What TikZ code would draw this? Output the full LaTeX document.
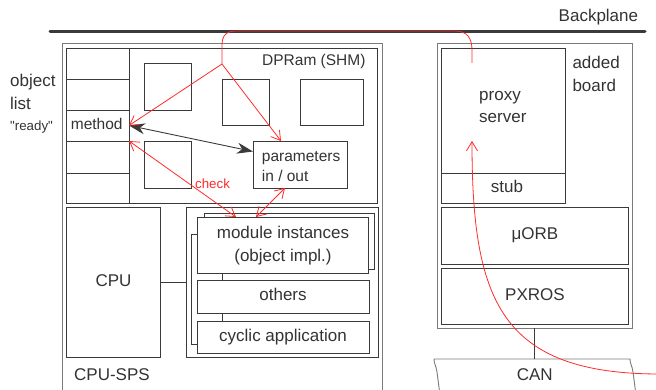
\documentclass[tikz,border=0pt]{standalone}
\usepackage{fontspec}
\setmainfont{Liberation Sans}
\newfontfamily\qfont{Liberation Sans}[Ligatures=TeXOff]
\usetikzlibrary{fit,arrows.meta}
\definecolor{ink}{HTML}{3A3A3A}
\definecolor{framec}{HTML}{7A7A7A}
\definecolor{txt}{HTML}{333333}
\definecolor{rd}{HTML}{FF2B2B}
\begin{document}
\begin{tikzpicture}[x=1pt,y=-1pt,
  box/.style={draw=ink, line width=0.9pt, inner sep=0pt, outer sep=0pt, rectangle},
  outerbox/.style={draw=framec, line width=0.9pt, inner sep=0pt, outer sep=0pt, rectangle},
  big/.style={text=txt, font=\fontsize{17}{20}\selectfont, inner sep=0pt},
  mid/.style={text=txt, font=\fontsize{15.5}{18}\selectfont, inner sep=0pt},
  small/.style={text=txt, font=\fontsize{13.3}{16}\selectfont, inner sep=0pt},
  rarr/.style={draw=rd, line width=0.8pt, arrows={-Straight Barb[length=9pt,width=11pt]}},
  rdbl/.style={draw=rd, line width=0.8pt, arrows={Straight Barb[length=9pt,width=11pt]-Straight Barb[length=9pt,width=11pt]}},
  blk/.style={draw=ink, line width=0.9pt, arrows={Stealth[length=16pt,width=11pt,inset=5pt]-Stealth[length=16pt,width=11pt,inset=5pt]}},
  conn/.style={draw=ink, line width=0.9pt}
]
\useasboundingbox (0,0) rectangle (656,390);

% backplane
\coordinate (bpL) at (50,32);
\coordinate (bpR) at (645,32);
\draw[draw=ink, line width=3pt, line cap=round] (bpL) -- (bpR);
\node[big, anchor=base east] (tBack) at (638.3,21.5) {Backplane};

% left board
\node[outerbox, fit={(62,43) (382,420)}] (lboard) {};
\node[box, fit={(66,48) (377,203)}] (dpram) {};
\node[box, fit={(66,48) (129,79)}] (r1) {};
\node[box, fit={(66,79) (129,110)}] (r2) {};
\node[box, fit={(66,110) (129,141)}] (method) {};
\node[box, fit={(66,141) (129,173)}] (r4) {};
\node[box, fit={(66,173) (129,203)}] (r5) {};
\node[box, fit={(144,63) (191,110)}] (s1) {};
\node[box, fit={(144,141) (191,188)}] (s2) {};
\node[box, fit={(222,79) (269,125)}] (s3) {};
\node[box, fit={(300,79) (363,125)}] (s4) {};
\node[box, fit={(253,141) (347,188)}] (params) {};

\node[mid, anchor=base west] (tDP) at (262,65.5) {DPRam (SHM)};
\node[big, anchor=base west] (tObj) at (10,87) {object};
\node[big, anchor=base west] (tList) at (10,110) {list};
\node[small, anchor=base west] (tReady) at (10,130.5) {\qfont "ready"};
\node[mid, anchor=base west] (tMeth) at (70.7,129.3) {method};
\node[mid, anchor=base west] (tPar1) at (261.7,161.7) {parameters};
\node[mid, anchor=base west] (tPar2) at (261.7,181.7) {in / out};

\node[box, fit={(66,207) (160,357)}] (cpu) {};
\node[box, fit={(186,207) (378,357)}] (app) {};
\node[box, fit={(204,213) (374,269)}] (modsh) {};
\node[box, fill=white, fit={(197,217) (368,273)}] (mod) {};
\node[box, fit={(197,280) (369,313)}] (oth) {};
\node[box, fit={(197,321) (369,353)}] (cyc) {};

\node[big, anchor=base] (tMod1) at (283,239) {module instances};
\node[big, anchor=base] (tMod2) at (283,261.7) {(object impl.)};
\node[big, anchor=base] (tCPU) at (113.5,286.7) {CPU};
\node[big, anchor=base west] (tSPS) at (74,380) {CPU-SPS};
\node[big, anchor=base] (tOth) at (283,300.7) {others};
\node[big, anchor=base] (tCyc) at (283,341.7) {cyclic application};

\draw[conn] (cpu.east) -- (app.west);
\draw[conn] ([yshift=-17pt]mod.north west) -- ++(-6,0) |- ([yshift=9pt]cyc.south west);
\draw[conn] ([xshift=25pt]mod.south west) -- ([xshift=25pt]oth.north west);
\draw[conn] ([xshift=25pt]oth.south west) -- ([xshift=25pt]cyc.north west);

% right board
\node[outerbox, fit={(437,43) (632,328)}] (rboard) {};
\node[box, fit={(441,48) (565,173)}] (proxy) {};
\node[box, fit={(441,173) (565,203)}] (stub) {};
\node[box, fit={(441,207) (628,264)}] (morb) {};
\node[box, fit={(441,268) (628,324)}] (pxros) {};

\node[big, anchor=base west] (tProxy) at (479,100.5) {proxy};
\node[big, anchor=base west] (tServer) at (479,122.7) {server};
\node[big, anchor=base] (tStub) at (507,192.7) {stub};
\node[big, anchor=base west] (tAdded) at (572.3,69) {added};
\node[big, anchor=base west] (tBoard) at (572.3,92) {board};
\node[big, anchor=base] (tMorb) at (535,239.3) {μORB};
\node[big, anchor=base] (tPx) at (535,300.7) {PXROS};

% CAN
\coordinate (canT) at (534.5,359);
\draw[draw=framec, line width=0.9pt] (440,395) -- (437,372) .. controls (436,365) and (434,364) .. (434,359) -- (630,359) .. controls (630,364) and (632,365) .. (633,372) -- (636,395);
\draw[conn] (rboard.south) -- (rboard.south |- canT);
\node[big, anchor=base] (tCAN) at (534.7,380) {CAN};

% black arrow
\draw[blk] (method.east) -- ([yshift=13pt]params.west);

% red paths
\coordinate (J) at (222,64);
\coordinate (P) at (472,63);
\draw[draw=rd, line width=0.8pt] (J) -- (222,45) .. controls (222,36) and (226,31) .. (236,31) -- (455,31) .. controls (467,31) and (472,38) .. (472,50) -- (P);
\draw[rarr] (J) -- (method.east);
\draw[rarr] (J) -- ([xshift=28pt]params.north west);
\draw[rdbl] (method.south east) -- ([xshift=39pt]mod.north west);
\draw[rdbl] ([xshift=32pt]params.south west) -- ([xshift=59pt]mod.north west);
\node[small, text=rd, anchor=base west] (tCheck) at (195,188.3) {check};

\coordinate (E) at (660,374);
\draw[rarr] (E) .. controls (500,374) and (472,300) .. ([xshift=31pt,yshift=-93pt]proxy.north west);
\end{tikzpicture}
\end{document}
